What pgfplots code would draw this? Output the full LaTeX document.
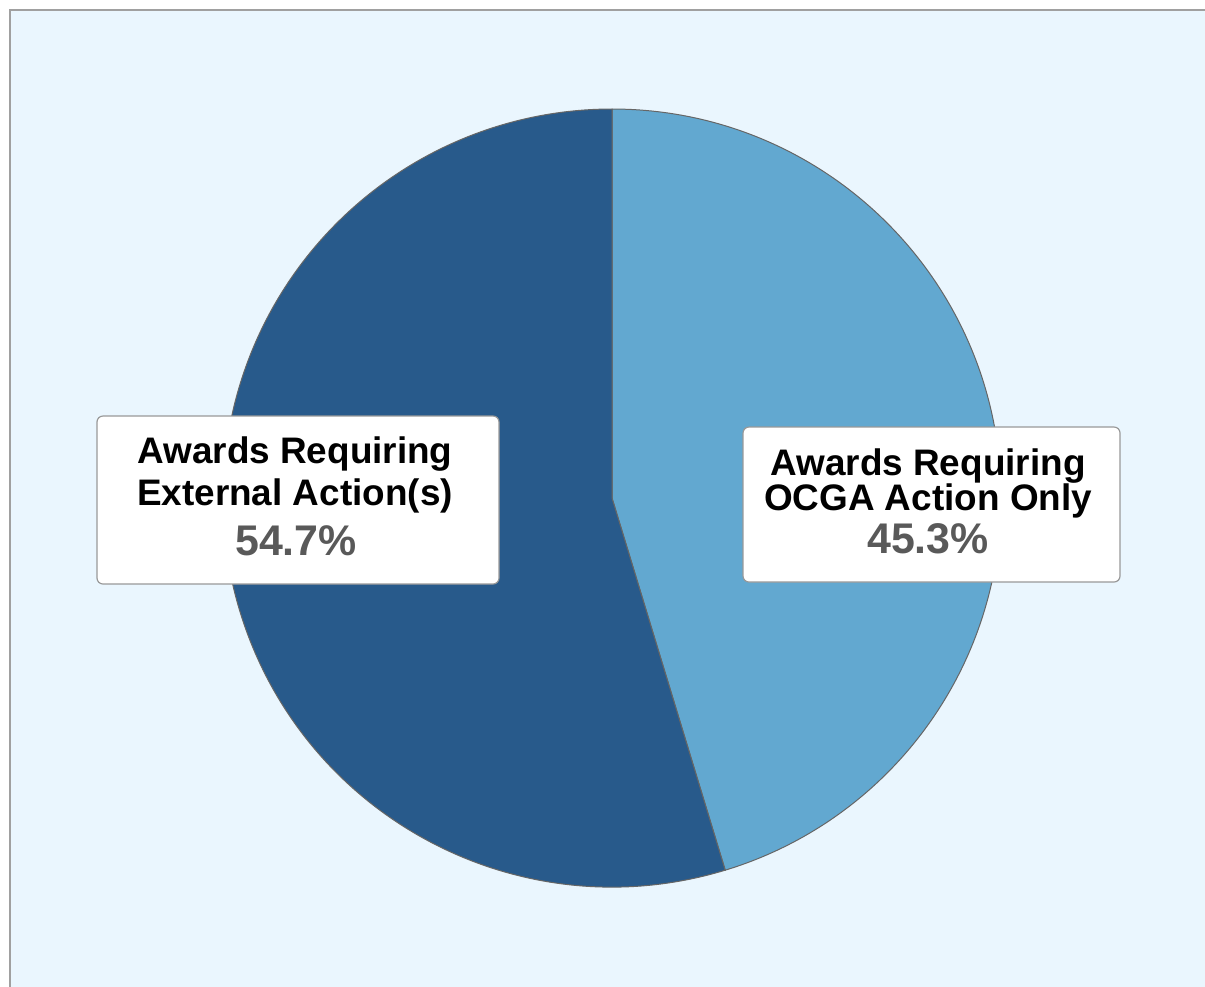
\documentclass[border=0pt]{standalone}
\usepackage{pgfplots}
\pgfplotsset{compat=1.18}
\usepackage{pgfplotstable}
\usepackage{fontspec}
\setmainfont{Liberation Sans}
\definecolor{bgblue}{HTML}{EAF6FE}
\definecolor{darkslice}{HTML}{285A8B}
\definecolor{lightslice}{HTML}{62A8D0}
\definecolor{pctgray}{HTML}{595959}
\definecolor{framegray}{HTML}{A0A0A0}
\pgfplotstableread{
label share
OCGA 45.3
External 54.7
}\piedata
\begin{document}
\begin{tikzpicture}
\pgfplotstablegetelem{0}{share}\of\piedata \let\shareA\pgfplotsretval
\pgfplotstablegetelem{1}{share}\of\piedata \let\shareB\pgfplotsretval
\pgfmathsetmacro\angA{90-3.6*\shareA}
\begin{axis}[at={(0,0)},anchor=south west, scale only axis,
  width=12.05cm, height=9.86cm, xmin=0, xmax=1205, ymin=0, ymax=986,
  y dir=reverse, hide axis, clip=false]
\fill[bgblue] (axis cs:10,10) rectangle (axis cs:1300,1100);
\draw[framegray, line width=0.22mm] (axis cs:1300,10) -- (axis cs:10,10) -- (axis cs:10,1100);
\filldraw[fill=lightslice, draw=black!60, line width=0.1mm]
  (axis cs:612,498) -- ++(90:38.9mm) arc[start angle=90, end angle=\angA, radius=38.9mm] -- cycle;
\filldraw[fill=darkslice, draw=black!60, line width=0.1mm]
  (axis cs:612,498) -- ++(\angA:38.9mm) arc[start angle=\angA, end angle=-270, radius=38.9mm] -- cycle;
% label boxes
\filldraw[fill=white, draw=gray!80, rounded corners=0.6mm, line width=0.12mm]
  (axis cs:97,416) rectangle (axis cs:499,584);
\filldraw[fill=white, draw=gray!80, rounded corners=0.6mm, line width=0.12mm]
  (axis cs:743,427) rectangle (axis cs:1120,582);
% left label
\node[anchor=base, inner sep=0, font=\fontsize{10.5pt}{12pt}\selectfont\bfseries] at (axis cs:295,463) {Awards Requiring};
\node[anchor=base, inner sep=0, font=\fontsize{10.5pt}{12pt}\selectfont\bfseries] at (axis cs:295,505) {External Action(s)};
\node[anchor=base, inner sep=0, text=pctgray, font=\fontsize{12.2pt}{14pt}\selectfont\bfseries] at (axis cs:296,555) {\shareB\%};
% right label
\node[anchor=base, inner sep=0, font=\fontsize{10.5pt}{12pt}\selectfont\bfseries] at (axis cs:928,475) {Awards Requiring};
\node[anchor=base, inner sep=0, font=\fontsize{10.5pt}{12pt}\selectfont\bfseries] at (axis cs:928,510) {OCGA Action Only};
\node[anchor=base, inner sep=0, text=pctgray, font=\fontsize{12.2pt}{14pt}\selectfont\bfseries] at (axis cs:928,553) {\shareA\%};
\end{axis}
\pgfresetboundingbox
\path[use as bounding box] (0,0) rectangle (12.05cm,9.86cm);
\end{tikzpicture}
\end{document}
